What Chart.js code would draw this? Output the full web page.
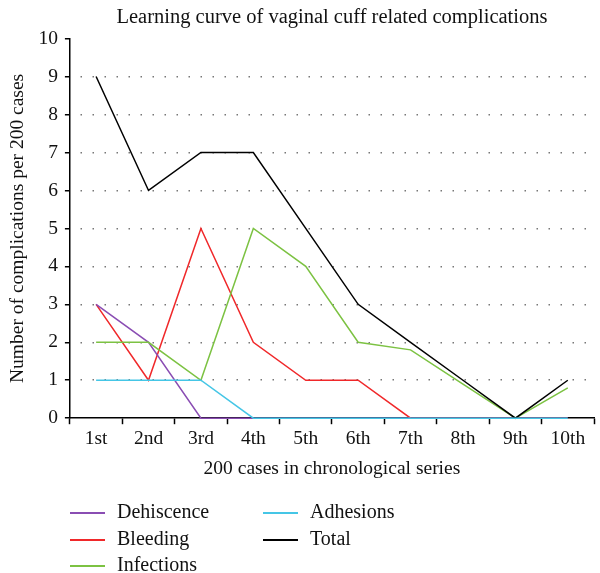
<!DOCTYPE html>
<html>
<head>
<meta charset="utf-8">
<script src="https://cdn.jsdelivr.net/npm/chart.js@4/dist/chart.umd.min.js"></script>
<style>
  html, body { margin: 0; padding: 0; background: #fff; }
  #wrap { position: relative; width: 600px; height: 573px; }
  #legend { position: absolute; left: 0; top: 0; font-family: 'Liberation Serif', serif; font-size: 20px; color: #111; }
  .lg { position: absolute; white-space: nowrap; }
  .lg span.sw { position: absolute; top: 0; width: 35px; height: 1.5px; }
  .lg span.tx { position: absolute; top: -12px; left: 47px; }
</style>
</head>
<body>
<div id="wrap">
  <canvas id="chart" width="600" height="573"></canvas>
  <div id="legend"></div>
</div>
<script>
// ── Data ──────────────────────────────────────────────────────────────────────
const categories  = ['1st', '2nd', '3rd', '4th', '5th', '6th', '7th', '8th', '9th', '10th'];
const dehiscence  = [3, 2, 0, 0, 0, 0, 0, 0, 0, 0];
const bleeding    = [3, 1, 5, 2, 1, 1, 0, 0, 0, 0];
const infections  = [2, 2, 1, 5, 4, 2, 1.8, 0.9, 0, 0.8];
const adhesions   = [1, 1, 1, 0, 0, 0, 0, 0, 0, 0];
const total       = [9, 6, 7, 7, 5, 3, 2, 1, 0, 1];

const SERIES = [
  { label: 'Dehiscence', data: dehiscence, color: '#8a4db3', order: 3 },
  { label: 'Bleeding',   data: bleeding,   color: '#f0282a', order: 4 },
  { label: 'Infections', data: infections, color: '#7cc242', order: 2 },
  { label: 'Adhesions',  data: adhesions,  color: '#45c6e6', order: 0 },
  { label: 'Total',      data: total,      color: '#000000', order: 1 },
];

const FONT = "'Liberation Serif', serif";

// ── Chart ─────────────────────────────────────────────────────────────────────
new Chart(document.getElementById('chart').getContext('2d'), {
  type: 'line',
  data: {
    labels: categories,
    datasets: SERIES.map(s => ({
      label: s.label,
      data: s.data,
      borderColor: s.color,
      backgroundColor: s.color,
      borderWidth: 1.5,
      pointRadius: 0,
      tension: 0,
      fill: false,
      clip: false,
      order: s.order,
    })),
  },
  options: {
    responsive: false,
    animation: false,
    layout: { padding: { top: 0, right: 6, bottom: 92, left: 6 } },
    plugins: {
      legend: { display: false },
      tooltip: { enabled: false },
      title: {
        display: true,
        fullSize: false,
        text: 'Learning curve of vaginal cuff related complications',
        color: '#111',
        font: { family: FONT, size: 20.5, weight: 'normal' },
        padding: { top: 5, bottom: 9 },
      },
    },
    scales: {
      x: {
        offset: true,
        border: { color: '#000', width: 1.5 },
        grid: { offset: true, drawOnChartArea: false, drawTicks: true, tickLength: 6, tickColor: '#000', tickWidth: 1.5 },
        ticks: { color: '#111', font: { family: FONT, size: 19.5 }, padding: 3, maxRotation: 0 },
        title: {
          display: true, text: '200 cases in chronological series', color: '#111',
          font: { family: FONT, size: 19.5 }, padding: { top: 4, bottom: 0 },
        },
      },
      y: {
        min: 0, max: 10,
        border: { color: '#000', width: 1.5, dash: [1.5, 10.5], dashOffset: -10 },
        grid: {
          color: ctx => (ctx.tick && (ctx.tick.value === 0 || ctx.tick.value === 10)) ? 'rgba(0,0,0,0)' : '#777',
          lineWidth: 1.5,
          tickColor: '#000',
          tickBorderDash: [],
          tickLength: 5,
          tickWidth: 1.5,
        },
        ticks: { stepSize: 1, color: '#111', font: { family: FONT, size: 19.5 }, padding: 7 },
        title: {
          display: true, text: 'Number of complications per 200 cases', color: '#111',
          font: { family: FONT, size: 19.5 }, padding: { top: 0, bottom: 2 },
        },
      },
    },
  },
});

// ── Legend (two columns, like the original) ───────────────────────────────────
const LEGEND_POS = [
  { x: 70,  y: 512 }, { x: 70,  y: 539 }, { x: 70,  y: 565 },
  { x: 263, y: 512 }, { x: 263, y: 539 },
];
document.getElementById('legend').innerHTML = SERIES.map((s, i) => `
  <div class="lg" style="left:${LEGEND_POS[i].x}px;top:${LEGEND_POS[i].y}px">
    <span class="sw" style="background:${s.color}"></span>
    <span class="tx">${s.label}</span>
  </div>`).join('');
</script>
</body>
</html>
